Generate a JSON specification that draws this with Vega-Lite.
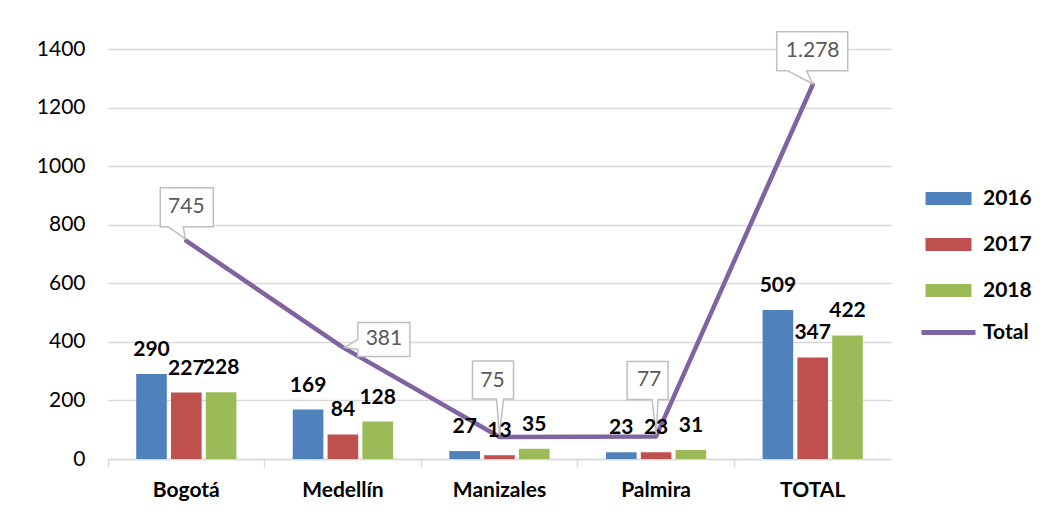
{
  "$schema": "https://vega.github.io/schema/vega-lite/v6.json",
  "width": 783,
  "height": 410,
  "autosize": "none",
  "padding": {"left": 108, "top": 49, "right": 155, "bottom": 59},
  "background": "white",
  "config": {
    "view": {"stroke": null},
    "font": "Lato",
    "locale": {"number": {"decimal": ",", "thousands": ".", "grouping": [3], "currency": ["$", ""]}}
  },
  "datasets": {
    "bars": [
      {"city": "Bogotá", "year": "2016", "value": 290},
      {"city": "Bogotá", "year": "2017", "value": 227},
      {"city": "Bogotá", "year": "2018", "value": 228},
      {"city": "Medellín", "year": "2016", "value": 169},
      {"city": "Medellín", "year": "2017", "value": 84},
      {"city": "Medellín", "year": "2018", "value": 128},
      {"city": "Manizales", "year": "2016", "value": 27},
      {"city": "Manizales", "year": "2017", "value": 13},
      {"city": "Manizales", "year": "2018", "value": 35},
      {"city": "Palmira", "year": "2016", "value": 23},
      {"city": "Palmira", "year": "2017", "value": 23},
      {"city": "Palmira", "year": "2018", "value": 31},
      {"city": "TOTAL", "year": "2016", "value": 509},
      {"city": "TOTAL", "year": "2017", "value": 347},
      {"city": "TOTAL", "year": "2018", "value": 422}
    ],
    "totals": [
      {"city": "Bogotá", "serie": "Total", "value": 745},
      {"city": "Medellín", "serie": "Total", "value": 381},
      {"city": "Manizales", "serie": "Total", "value": 75},
      {"city": "Palmira", "serie": "Total", "value": 77},
      {"city": "TOTAL", "serie": "Total", "value": 1278}
    ]
  },
  "encoding": {
    "x": {
      "field": "city",
      "type": "nominal",
      "sort": ["Bogotá", "Medellín", "Manizales", "Palmira", "TOTAL"],
      "scale": {"paddingInner": 0.36, "paddingOuter": 0.18},
      "axis": {
        "title": null,
        "labelAngle": 0,
        "labelFontSize": 21,
        "labelFontWeight": "bold",
        "labelColor": "#000000",
        "labelPadding": 12,
        "domainColor": "#D9D9D9",
        "domainWidth": 1.5,
        "tickColor": "#D9D9D9",
        "tickWidth": 1.5,
        "tickSize": 8,
        "bandPosition": -0.28
      }
    },
    "y": {
      "field": "value",
      "type": "quantitative",
      "scale": {"domain": [0, 1400], "nice": false},
      "axis": {
        "title": null,
        "values": [0, 200, 400, 600, 800, 1000, 1200, 1400],
        "format": "d",
        "domain": false,
        "ticks": false,
        "labelFontSize": 21,
        "labelColor": "#000000",
        "labelPadding": 23,
        "gridColor": "#D9D9D9",
        "gridWidth": 1.5
      }
    }
  },
  "layer": [
    {
      "data": {"name": "bars"},
      "mark": {"type": "bar"},
      "encoding": {
        "xOffset": {"field": "year", "type": "nominal", "scale": {"paddingInner": 0.12}},
        "fill": {
          "field": "year",
          "type": "nominal",
          "scale": {"domain": ["2016", "2017", "2018"], "range": ["#4F81BD", "#C0504D", "#9BBB59"]},
          "legend": {
            "title": null,
            "orient": "none",
            "legendX": 830,
            "legendY": 139,
            "symbolType": "M-23,-6.5H23V6.5H-23Z",
            "symbolSize": 4,
            "symbolStrokeWidth": 0,
            "labelFontSize": 21,
            "labelFontWeight": "bold",
            "labelColor": "#000000",
            "labelOffset": 24,
            "rowPadding": 24,
            "padding": 0
          }
        }
      }
    },
    {
      "data": {"name": "totals"},
      "mark": {"type": "line", "strokeWidth": 4.5, "strokeCap": "round", "strokeJoin": "round"},
      "encoding": {
        "stroke": {
          "field": "serie",
          "type": "nominal",
          "scale": {"domain": ["Total"], "range": ["#8064A2"]},
          "legend": {
            "title": null,
            "orient": "none",
            "legendX": 830,
            "legendY": 273,
            "symbolType": "M-27,0H27",
            "symbolSize": 4,
            "symbolStrokeWidth": 5,
            "labelFontSize": 21,
            "labelFontWeight": "bold",
            "labelColor": "#000000",
            "labelOffset": 24,
            "padding": 0
          }
        }
      }
    },
    {
      "data": {"name": "totals"},
      "mark": {"type": "point", "filled": true, "fill": "white", "stroke": "#BFBFBF", "strokeWidth": 1.5, "size": 4, "opacity": 1},
      "encoding": {
        "shape": {
          "field": "city",
          "type": "nominal",
          "scale": {
            "domain": ["Bogotá", "Medellín", "Manizales", "Palmira", "TOTAL"],
            "range": [
              "M-26,-53H27V-14H-3L-1,-2L-18,-14H-26Z",
              "M15,-25H67V9H15V2L2,0L15,-8Z",
              "M-27,-76H14V-38H4L0,-2L-3,-38H-27Z",
              "M-29,-75H12V-37H2L0,-2L-4,-37H-29Z",
              "M-36,-53H35V-14H-6L0,-1L-25,-14H-36Z"
            ]
          },
          "legend": null
        }
      }
    },
    {
      "data": {"name": "bars"},
      "mark": {"type": "text", "fontSize": 21, "fontWeight": "bold", "color": "#000000", "baseline": "alphabetic", "dy": -18},
      "encoding": {
        "xOffset": {"field": "year", "type": "nominal", "scale": {"paddingInner": 0.12}},
        "text": {"field": "value", "type": "quantitative", "format": "d"}
      }
    },
    {
      "data": {"name": "totals"},
      "transform": [{"filter": "datum.city === 'Bogotá' || datum.city === 'TOTAL'"}],
      "mark": {"type": "text", "fontSize": 21, "color": "#595959", "baseline": "middle", "dy": -34},
      "encoding": {"text": {"field": "value", "type": "quantitative", "format": ",d"}}
    },
    {
      "data": {"name": "totals"},
      "transform": [{"filter": "datum.city === 'Manizales' || datum.city === 'Palmira'"}],
      "mark": {"type": "text", "fontSize": 21, "color": "#595959", "baseline": "middle", "dx": -7, "dy": -56},
      "encoding": {"text": {"field": "value", "type": "quantitative", "format": ",d"}}
    },
    {
      "data": {"name": "totals"},
      "transform": [{"filter": "datum.city === 'Medellín'"}],
      "mark": {"type": "text", "fontSize": 21, "color": "#595959", "baseline": "middle", "dx": 41, "dy": -8},
      "encoding": {"text": {"field": "value", "type": "quantitative", "format": ",d"}}
    }
  ]
}
